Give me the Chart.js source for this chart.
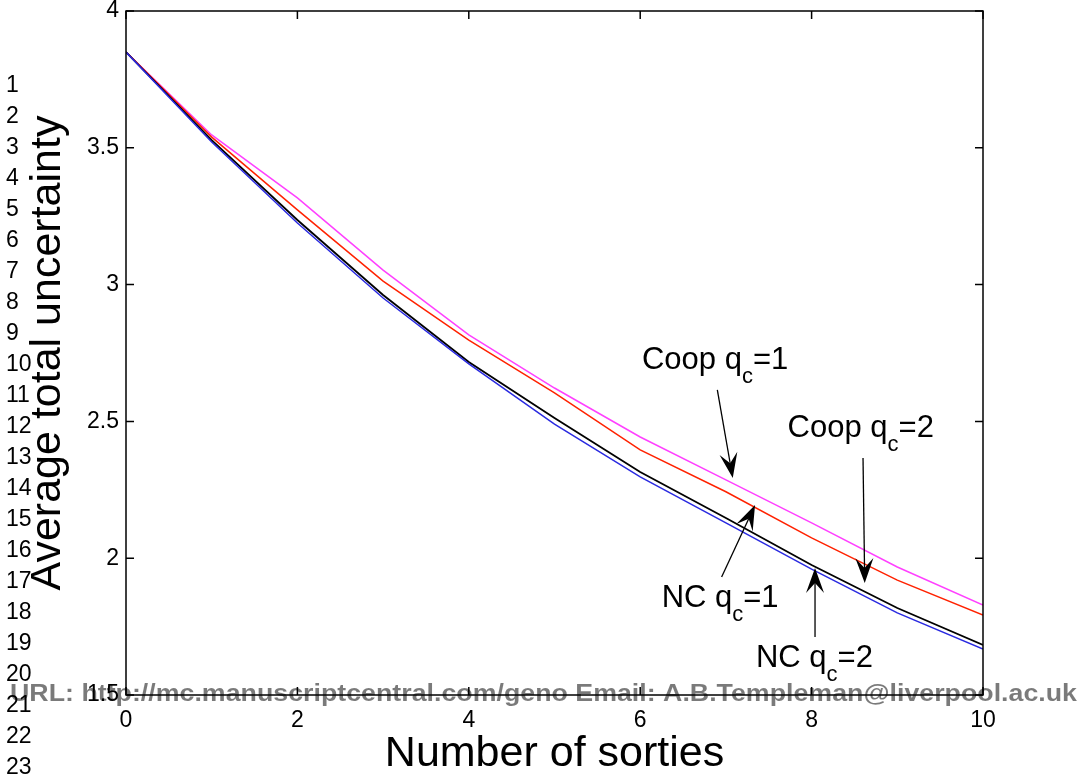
<!DOCTYPE html>
<html>
<head>
<meta charset="utf-8">
<script src="https://cdn.jsdelivr.net/npm/chart.js@4.4.1/dist/chart.umd.min.js"></script>
<style>
  html, body { margin: 0; padding: 0; background: #fff; }
  #wrap { width: 1081px; height: 775px; }
</style>
</head>
<body>
<div id="wrap"><canvas id="chart" width="1081" height="775"></canvas></div>
<script>
// data
const sorties = [0, 1, 2, 3, 4, 5, 6, 7, 8, 9, 10];
const coopQ1 = [3.85, 3.547, 3.317, 3.053, 2.816, 2.622, 2.443, 2.286, 2.129, 1.968, 1.829];
const coopQ2 = [3.85, 3.539, 3.273, 3.013, 2.797, 2.604, 2.396, 2.243, 2.074, 1.920, 1.792];
const ncQ1 = [3.85, 3.528, 3.236, 2.962, 2.717, 2.512, 2.315, 2.147, 1.975, 1.818, 1.683];
const ncQ2 = [3.85, 3.521, 3.225, 2.951, 2.710, 2.490, 2.297, 2.129, 1.960, 1.800, 1.668];

const FONT = '"Liberation Sans", Arial, Helvetica, sans-serif';

// text labels with arrows, in data units
const notes = [
  { name: "Coop", sub: "c", val: "=1", at: [6.02, 2.692], from: [6.90, 2.615], to: [7.08, 2.293] },
  { name: "Coop", sub: "c", val: "=2", at: [7.72, 2.443], from: [8.60, 2.366], to: [8.62, 1.909] },
  { name: "NC", sub: "c", val: "=1", at: [6.25, 1.822], from: [6.95, 1.931], to: [7.34, 2.194] },
  { name: "NC", sub: "c", val: "=2", at: [7.35, 1.602], from: [8.04, 1.712], to: [8.04, 1.964] },
];

const footer = "URL: http://mc.manuscriptcentral.com/geno Email: A.B.Templeman@liverpool.ac.uk";

function pts(arr) {
  return sorties.map((s, i) => ({ x: s, y: arr[i] }));
}

function arrow(ctx, x1, y1, x2, y2) {
  const ang = Math.atan2(y2 - y1, x2 - x1);
  const len = 25, half = 9, notch = 15;
  const c = Math.cos(ang), s = Math.sin(ang);
  ctx.beginPath();
  ctx.moveTo(x1, y1);
  ctx.lineTo(x2 - c * notch, y2 - s * notch);
  ctx.stroke();
  const bx = x2 - c * len, by = y2 - s * len;
  ctx.beginPath();
  ctx.moveTo(x2, y2);
  ctx.lineTo(bx - s * half, by + c * half);
  ctx.lineTo(x2 - c * notch, y2 - s * notch);
  ctx.lineTo(bx + s * half, by - c * half);
  ctx.closePath();
  ctx.fill();
}

const framePlugin = {
  id: "frame",
  afterDatasetsDraw(chart) {
    const { ctx, chartArea: a, scales: { x, y } } = chart;
    ctx.save();
    ctx.strokeStyle = "#000";
    ctx.lineWidth = 1.5;
    ctx.strokeRect(a.left, a.top, a.right - a.left, a.bottom - a.top);
    ctx.beginPath();
    x.ticks.forEach((t) => {
      const px = x.getPixelForValue(t.value);
      ctx.moveTo(px, a.bottom); ctx.lineTo(px, a.bottom - 8);
      ctx.moveTo(px, a.top); ctx.lineTo(px, a.top + 8);
    });
    y.ticks.forEach((t) => {
      const py = y.getPixelForValue(t.value);
      ctx.moveTo(a.left, py); ctx.lineTo(a.left + 8, py);
      ctx.moveTo(a.right, py); ctx.lineTo(a.right - 8, py);
    });
    ctx.stroke();

    // annotations
    ctx.fillStyle = "#000";
    ctx.lineWidth = 1.3;
    notes.forEach((n) => {
      let tx = x.getPixelForValue(n.at[0]);
      const ty = y.getPixelForValue(n.at[1]);
      ctx.textBaseline = "alphabetic";
      ctx.textAlign = "left";
      ctx.font = "31px " + FONT;
      const head = n.name + " q";
      ctx.fillText(head, tx, ty);
      tx += ctx.measureText(head).width;
      ctx.font = "22px " + FONT;
      ctx.fillText(n.sub, tx, ty + 14);
      tx += ctx.measureText(n.sub).width;
      ctx.font = "31px " + FONT;
      ctx.fillText(n.val, tx, ty);
      arrow(ctx,
        x.getPixelForValue(n.from[0]), y.getPixelForValue(n.from[1]),
        x.getPixelForValue(n.to[0]), y.getPixelForValue(n.to[1]));
    });
    ctx.restore();
  },
  afterDraw(chart) {
    const ctx = chart.ctx;
    ctx.save();
    // manuscript line numbers
    ctx.fillStyle = "#000";
    ctx.font = "23px " + FONT;
    ctx.textAlign = "left";
    ctx.textBaseline = "middle";
    for (let i = 1; i <= 23; i++) {
      ctx.fillText(String(i), 6, 86 + (i - 1) * 31);
    }
    // footer stamp
    ctx.font = "bold 24px " + FONT;
    ctx.textBaseline = "alphabetic";
    const w = ctx.measureText(footer).width;
    ctx.translate(10, 701);
    ctx.scale(1067 / w, 1);
    ctx.fillStyle = "rgba(0,0,0,0.52)";
    ctx.fillText(footer, 0, 0);
    ctx.restore();
  },
};

const line = (data, color, width) => ({
  data: pts(data),
  borderColor: color,
  borderWidth: width,
  pointRadius: 0,
  fill: false,
  tension: 0,
});

new Chart(document.getElementById("chart"), {
  type: "line",
  data: {
    datasets: [
      line(ncQ2, "#2a2ae0", 1.5),
      line(ncQ1, "#000000", 1.8),
      line(coopQ2, "#ff2200", 1.5),
      line(coopQ1, "#ff40ff", 1.5),
    ],
  },
  options: {
    responsive: false,
    animation: false,
    devicePixelRatio: 1,
    layout: { padding: { left: 0, top: 0, right: 98, bottom: 0 } },
    plugins: { legend: { display: false }, tooltip: { enabled: false } },
    scales: {
      x: {
        type: "linear",
        min: 0,
        max: 10,
        grid: { display: false, drawTicks: false },
        border: { display: false },
        ticks: { stepSize: 2, padding: 12, color: "#000", font: { size: 23, family: FONT } },
        title: {
          display: true,
          text: "Number of sorties",
          color: "#000",
          font: { size: 43, family: FONT, lineHeight: 1 },
          padding: { top: 0, bottom: -1 },
        },
        afterFit: (s) => { s.height = 80; s.paddingLeft = 0; s.paddingRight = 0; },
      },
      y: {
        min: 1.5,
        max: 4,
        grid: { display: false, drawTicks: false },
        border: { display: false },
        ticks: {
          stepSize: 0.5, padding: 7, color: "#000",
          font: { size: 23, family: FONT, lineHeight: 0.96 },
          callback: (v) => String(v),
        },
        title: {
          display: true,
          text: "Average total uncertainty",
          color: "#000",
          font: { size: 43, family: FONT, lineHeight: 1 },
          padding: { top: 27, bottom: 0 },
        },
        afterFit: (s) => { s.width = 126; s.paddingTop = 11; s.paddingBottom = 0; },
      },
    },
  },
  plugins: [framePlugin],
});
</script>
</body>
</html>
